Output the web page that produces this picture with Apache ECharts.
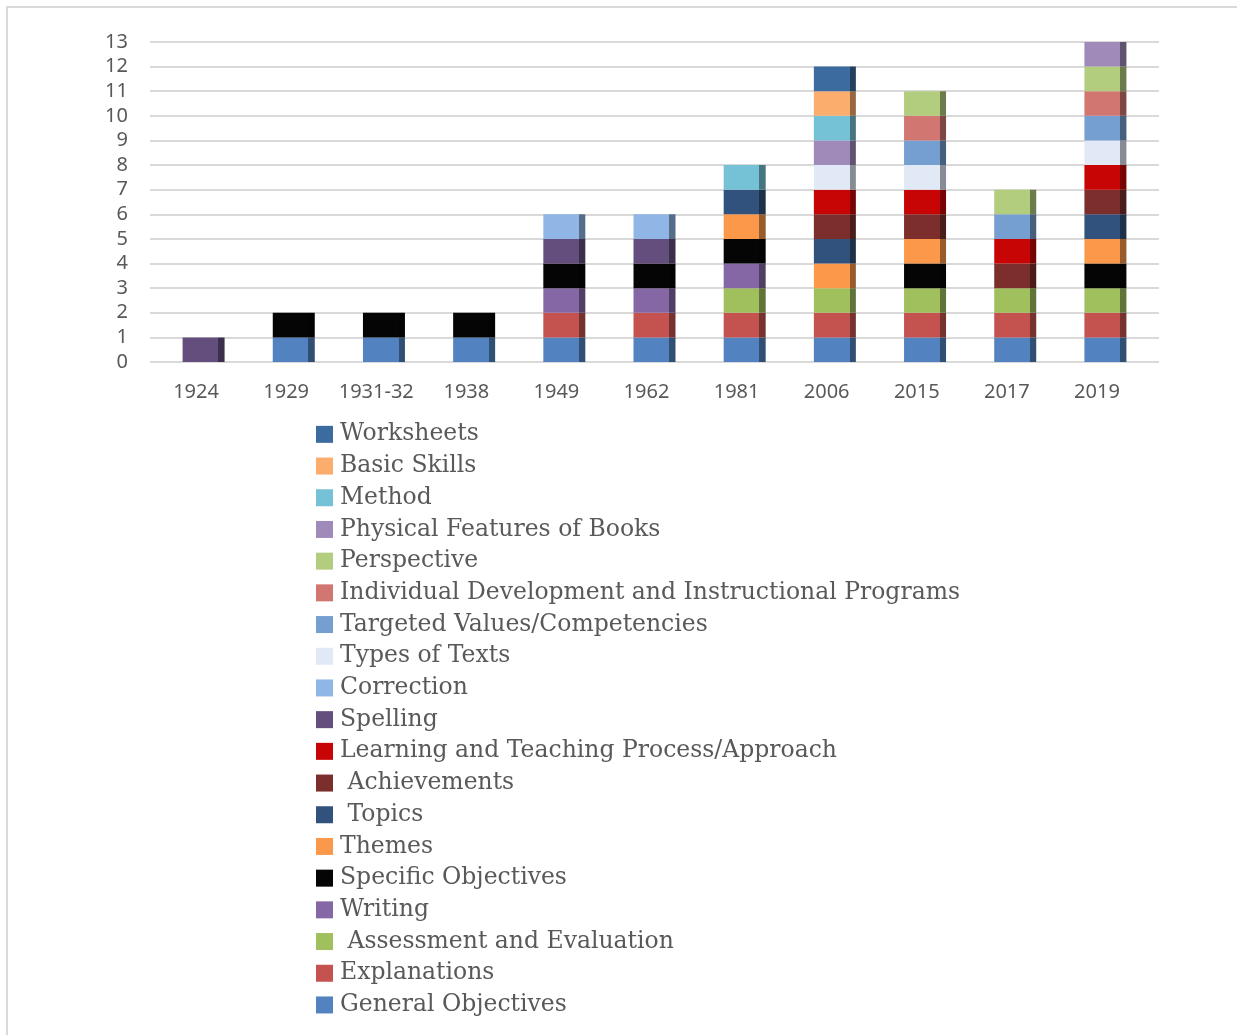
<!DOCTYPE html>
<html>
<head>
<meta charset="utf-8">
<script src="https://cdn.jsdelivr.net/npm/echarts@6/dist/echarts.min.js"></script>
<style>
  html, body { margin: 0; padding: 0; background: #fff; }
  .frame {
    position: absolute; left: 6px; top: 6px;
    width: 1300px; height: 1100px;
    border-left: 2px solid #d9d9d9; border-top: 2px solid #d9d9d9;
  }
  #chart { position: absolute; left: 0; top: 0; width: 1237px; height: 1035px; }
</style>
</head>
<body>
<div class="frame"></div>
<div id="chart"></div>
<script>
// categories (years)
const years = ['1924', '1929', '1931-32', '1938', '1949', '1962', '1981', '2006', '2015', '2017', '2019']

// one row per theme, stacked bottom -> top
const generalObjectives   = [0, 1, 1, 1, 1, 1, 1, 1, 1, 1, 1]
const explanations        = [0, 0, 0, 0, 1, 1, 1, 1, 1, 1, 1]
const assessment          = [0, 0, 0, 0, 0, 0, 1, 1, 1, 1, 1]
const writing             = [0, 0, 0, 0, 1, 1, 1, 0, 0, 0, 0]
const specificObjectives  = [0, 1, 1, 1, 1, 1, 1, 0, 1, 0, 1]
const themes              = [0, 0, 0, 0, 0, 0, 1, 1, 1, 0, 1]
const topics              = [0, 0, 0, 0, 0, 0, 1, 1, 0, 0, 1]
const achievements        = [0, 0, 0, 0, 0, 0, 0, 1, 1, 1, 1]
const learningTeaching    = [0, 0, 0, 0, 0, 0, 0, 1, 1, 1, 1]
const spelling            = [1, 0, 0, 0, 1, 1, 0, 0, 0, 0, 0]
const correction          = [0, 0, 0, 0, 1, 1, 0, 0, 0, 0, 0]
const typesOfTexts        = [0, 0, 0, 0, 0, 0, 0, 1, 1, 0, 1]
const targetedValues      = [0, 0, 0, 0, 0, 0, 0, 0, 1, 1, 1]
const individualDev       = [0, 0, 0, 0, 0, 0, 0, 0, 1, 0, 1]
const perspective         = [0, 0, 0, 0, 0, 0, 0, 0, 1, 1, 1]
const physicalFeatures    = [0, 0, 0, 0, 0, 0, 0, 1, 0, 0, 1]
const method              = [0, 0, 0, 0, 0, 0, 1, 1, 0, 0, 0]
const basicSkills         = [0, 0, 0, 0, 0, 0, 0, 1, 0, 0, 0]
const worksheets          = [0, 0, 0, 0, 0, 0, 0, 1, 0, 0, 0]

const yTicks = [0, 13, 1] // min, max, interval

const seriesDefs = [
  ['General Objectives', generalObjectives, '#5283c0'],
  ['Explanations', explanations, '#c4534f'],
  [' Assessment and Evaluation', assessment, '#a0bf5d'],
  ['Writing', writing, '#8567a6'],
  ['Specific Objectives', specificObjectives, '#050505'],
  ['Themes', themes, '#fb984a'],
  [' Topics', topics, '#30527c'],
  [' Achievements', achievements, '#7b2e2c'],
  ['Learning and Teaching Process/Approach', learningTeaching, '#c80505'],
  ['Spelling', spelling, '#644e7e'],
  ['Correction', correction, '#8fb6e5'],
  ['Types of Texts', typesOfTexts, '#e1e9f6'],
  ['Targeted Values/Competencies', targetedValues, '#759fd0'],
  ['Individual Development and Instructional Programs', individualDev, '#d27672'],
  ['Perspective', perspective, '#b3cd7e'],
  ['Physical Features of Books', physicalFeatures, '#a08aba'],
  ['Method', method, '#75c1d5'],
  ['Basic Skills', basicSkills, '#fbad6e'],
  ['Worksheets', worksheets, '#3c6b9f']
]

// darker side strip, fakes the 3D look of the original
function darker(hex, k) {
  const n = parseInt(hex.slice(1), 16)
  const r = Math.round(((n >> 16) & 255) * k)
  const g = Math.round(((n >> 8) & 255) * k)
  const b = Math.round((n & 255) * k)
  return 'rgb(' + r + ',' + g + ',' + b + ')'
}

function barColor(c) {
  const d = darker(c, 0.6)
  return new echarts.graphic.LinearGradient(0, 0, 1, 0, [
    { offset: 0, color: c },
    { offset: 0.85, color: c },
    { offset: 0.85, color: d },
    { offset: 1, color: d }
  ])
}

const chart = echarts.init(document.getElementById('chart'))

const gridTop = 42
const gridBottom = 673

chart.setOption({
  animation: false,
  grid: [
    // gridlines + y labels
    { left: 150, right: 78, top: gridTop, bottom: gridBottom },
    // x labels
    { left: 151, right: 95, top: gridTop, bottom: gridBottom },
    // bars (sit slightly right of the labels, like the 3D original)
    { left: 158.5, right: 86.5, top: gridTop, bottom: gridBottom }
  ],
  legend: {
    orient: 'vertical',
    left: 316,
    top: 418.5,
    padding: 0,
    icon: 'rect',
    itemWidth: 17,
    itemHeight: 17,
    itemGap: 0,
    textStyle: {
      fontFamily: 'DejaVu Serif',
      fontSize: 23.5,
      color: '#595959',
      lineHeight: 31.7,
      padding: [0, 0, 0, 2]
    },
    data: seriesDefs.slice().reverse().map(s => ({ name: s[0], itemStyle: { color: s[2] } }))
  },
  xAxis: [
    { gridIndex: 0, type: 'category', data: years, show: false },
    {
      gridIndex: 1,
      type: 'category',
      data: years,
      axisLine: { show: false },
      axisTick: { show: false },
      axisLabel: { color: '#595959', fontSize: 20, fontFamily: 'Noto Sans', margin: 20, interval: 0 }
    },
    { gridIndex: 2, type: 'category', data: years, show: false }
  ],
  yAxis: [
    {
      gridIndex: 0,
      type: 'value',
      min: yTicks[0],
      max: yTicks[1],
      interval: yTicks[2],
      axisLine: { show: false },
      axisTick: { show: false },
      splitLine: { lineStyle: { color: '#d9d9d9', width: 2 } },
      axisLabel: { color: '#595959', fontSize: 20, fontFamily: 'Noto Sans', margin: 22, padding: [5, 0, 0, 0] }
    },
    { gridIndex: 1, type: 'value', min: yTicks[0], max: yTicks[1], show: false },
    { gridIndex: 2, type: 'value', min: yTicks[0], max: yTicks[1], show: false }
  ],
  series: seriesDefs.map(s => ({
    name: s[0],
    type: 'bar',
    stack: 'total',
    xAxisIndex: 2,
    yAxisIndex: 2,
    barWidth: 42,
    itemStyle: { color: barColor(s[2]) },
    data: s[1]
  }))
})
</script>
</body>
</html>
